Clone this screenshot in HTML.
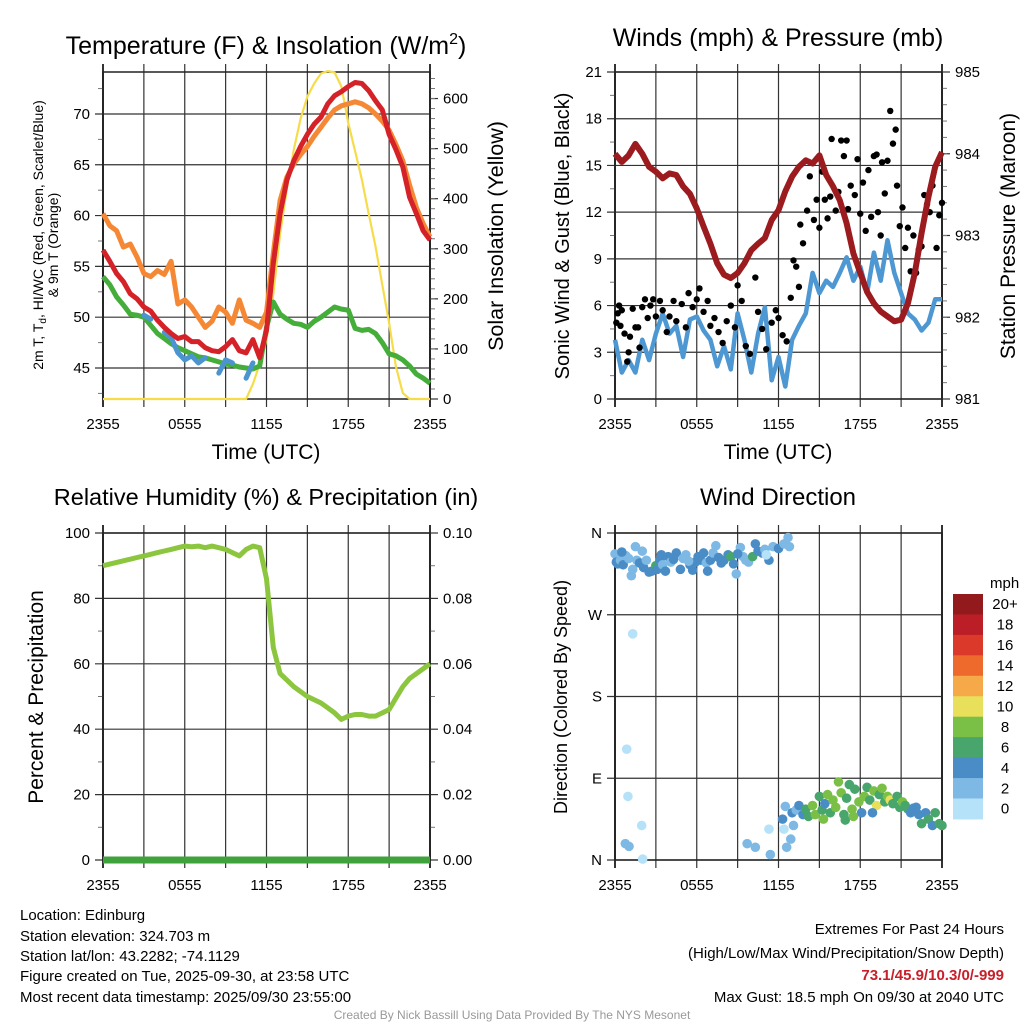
<!DOCTYPE html>
<html><head><meta charset="utf-8"><style>
html,body{margin:0;padding:0;background:#fff;}
svg{display:block;font-family:"Liberation Sans",Arial,sans-serif;}
</style></head><body>
<svg id="chart" width="1024" height="1024" viewBox="0 0 1024 1024" xmlns="http://www.w3.org/2000/svg">
<text x="266" y="54" font-size="25" text-anchor="middle">Temperature (F) &amp; Insolation (W/m<tspan font-size="16" dy="-10">2</tspan><tspan dy="10">)</tspan></text>
<text x="778" y="46" font-size="25" text-anchor="middle">Winds (mph) &amp; Pressure (mb)</text>
<text x="266" y="505" font-size="23.5" text-anchor="middle">Relative Humidity (%) &amp; Precipitation (in)</text>
<text x="778" y="505" font-size="24" text-anchor="middle">Wind Direction</text>

<text transform="translate(43,235) rotate(-90)" font-size="14" text-anchor="middle">2m T, T<tspan font-size="10" dy="3">d</tspan><tspan dy="-3">, HI/WC (Red, Green, Scarlet/Blue)</tspan></text>
<text transform="translate(58,245) rotate(-90)" font-size="14" text-anchor="middle">&amp; 9m T (Orange)</text>
<text transform="translate(503,236) rotate(-90)" font-size="21.5" text-anchor="middle">Solar Insolation (Yellow)</text>
<text x="266" y="459" font-size="21" text-anchor="middle">Time (UTC)</text>
<text transform="translate(569,236) rotate(-90)" font-size="20" text-anchor="middle">Sonic Wind &amp; Gust (Blue, Black)</text>
<text transform="translate(1015,236) rotate(-90)" font-size="21" text-anchor="middle">Station Pressure (Maroon)</text>
<text x="778" y="459" font-size="21" text-anchor="middle">Time (UTC)</text>
<text transform="translate(43,697) rotate(-90)" font-size="21" text-anchor="middle">Percent &amp; Precipitation</text>
<text transform="translate(567,697) rotate(-90)" font-size="18" text-anchor="middle">Direction (Colored By Speed)</text>

<g font-size="15">
<text x="20" y="920">Location: Edinburg</text>
<text x="20" y="941">Station elevation: 324.703 m</text>
<text x="20" y="961">Station lat/lon: 43.2282; -74.1129</text>
<text x="20" y="981">Figure created on Tue, 2025-09-30, at 23:58 UTC</text>
<text x="20" y="1002">Most recent data timestamp: 2025/09/30 23:55:00</text>
</g>
<g font-size="15" text-anchor="end">
<text x="1004" y="934">Extremes For Past 24 Hours</text>
<text x="1004" y="958">(High/Low/Max Wind/Precipitation/Snow Depth)</text>
<text x="1004" y="980" fill="#c8202a" font-weight="bold">73.1/45.9/10.3/0/-999</text>
<text x="1004" y="1002">Max Gust: 18.5 mph On 09/30 at 2040 UTC</text>
</g>
<text x="512" y="1019" font-size="12" fill="#999" text-anchor="middle">Created By Nick Bassill Using Data Provided By The NYS Mesonet</text>
</svg>
<script>
// ---------- data ----------
const timeTicks = ["2355","0555","1155","1755","2355"];
const halfHours = [0,0.5,1,1.5,2,2.5,3,3.5,4,4.5,5,5.5,6,6.5,7,7.5,8,8.5,9,9.5,10,10.5,11,11.5,12,12.5,13,13.5,14,14.5,15,15.5,16,16.5,17,17.5,18,18.5,19,19.5,20,20.5,21,21.5,22,22.5,23,23.5,24];
const tempRed = [56.6,55.5,54.3,53.5,52.3,51.8,51.0,50.6,49.7,49.0,48.4,47.9,48.1,47.6,47.6,47.0,46.7,46.6,47.1,47.8,46.7,46.5,47.8,46.0,48.7,55.3,60.2,63.5,65.4,66.8,68.0,69.0,69.7,71.0,71.8,72.2,72.7,73.1,73.0,72.3,71.3,70.4,68.0,66.5,64.8,61.8,60.2,58.5,57.6];
const temp9mOrange = [60.2,59.0,58.5,56.9,57.2,55.9,54.3,54.0,54.6,54.2,55.5,51.3,51.7,51.0,50.0,49.0,49.6,51.0,50.5,49.4,51.7,49.7,49.4,49.0,50.5,56.3,61.5,63.8,65.1,66.0,66.8,67.8,68.7,69.6,70.4,70.8,71.0,71.2,71.0,70.6,70.0,69.3,68.4,67.0,65.4,63.0,60.8,59.2,57.9];
const dewGreen = [54.0,53.2,52.0,51.2,50.3,50.2,50.0,49.2,48.4,47.9,47.4,47.0,46.7,46.4,46.1,46.0,45.8,45.6,45.4,45.3,45.1,45.0,44.9,45.2,49.0,51.5,50.3,49.8,49.4,49.3,49.0,49.6,50.0,50.5,51.0,50.8,50.7,48.9,48.7,48.8,48.4,47.5,46.4,46.2,45.8,45.2,44.4,44.0,43.5];
const windChillBlue = [null,null,null,null,null,null,50.2,49.8,null,48.5,48.0,46.5,45.8,46.2,45.5,46.0,null,44.5,45.8,45.5,null,44.0,45.5,null,null,null,null,null,null,null,null,null,null,null,null,null,null,null,null,null,null,null,null,null,null,null,null,null,56.8];
const solar = [0,0,0,0,0,0,0,0,0,0,0,0,0,0,0,0,0,0,0,0,0,0,30,70,118,210,330,420,498,560,604,630,650,655,652,624,551,495,438,370,305,228,152,65,12,0,0,0,0];
const pressure = [984.00,983.90,983.98,984.12,984.00,983.84,983.78,983.70,983.76,983.74,983.60,983.51,983.33,983.11,982.90,982.66,982.52,982.48,982.54,982.66,982.82,982.90,982.97,983.19,983.31,983.54,983.72,983.84,983.92,983.88,983.98,983.74,983.60,983.43,983.15,982.78,982.54,982.31,982.17,982.07,982.01,981.95,981.97,982.17,982.54,983.03,983.47,983.84,984.02];
const windSpeed = [3.8,1.7,2.5,1.7,3.8,2.5,4.2,5.5,4.2,4.7,2.7,5.1,5.3,4.4,3.8,2.1,3.4,1.9,5.5,3.8,1.7,4.2,5.9,1.2,2.7,0.8,3.8,4.7,5.5,8.1,6.8,7.6,7.2,8.1,9.1,7.6,8.5,6.8,9.4,7.6,10.2,8.1,6.8,5.5,5.1,4.4,4.9,6.4,6.4];
const gustTimes = [0.1,0.2,0.3,0.4,0.5,0.7,0.9,1.0,1.1,1.3,1.5,1.7,1.8,2.0,2.2,2.4,2.6,2.8,3.0,3.3,3.5,3.8,4.0,4.3,4.5,4.9,5.2,5.4,5.7,6.0,6.2,6.5,6.8,7.0,7.3,7.6,7.9,8.2,8.5,8.8,9.0,9.3,9.6,9.9,10.3,10.5,10.8,11.1,11.5,11.8,12.0,12.3,12.6,12.9,13.1,13.3,13.5,13.6,13.8,14.1,14.3,14.6,14.8,15.0,15.2,15.4,15.6,15.8,15.9,16.2,16.4,16.6,16.8,17.0,17.1,17.3,17.6,17.8,18.0,18.2,18.4,18.6,18.8,19.0,19.2,19.3,19.5,19.6,19.8,20.0,20.2,20.4,20.6,20.7,20.9,21.1,21.3,21.5,21.7,21.9,22.1,22.3,22.5,22.7,22.9,23.1,23.3,23.6,23.8,24.0];
const gustValues = [4.9,5.5,6.0,4.7,5.7,4.2,2.4,3.0,4.0,5.8,4.6,4.6,3.3,5.9,6.4,5.2,6.0,6.4,5.3,6.3,5.7,4.3,5.3,6.3,5.0,6.1,4.6,6.8,5.9,6.4,7.1,5.6,6.3,4.7,5.2,4.3,3.6,5.0,6.0,4.6,7.3,6.3,3.4,2.9,7.8,5.6,4.5,3.2,4.9,5.7,5.2,4.1,3.7,6.5,8.9,8.5,7.2,11.2,10.0,12.1,14.3,11.5,12.8,11.0,14.6,12.8,11.6,13.0,16.7,12.1,13.3,16.6,15.6,16.6,12.2,13.7,13.1,15.4,11.9,13.9,10.8,14.7,11.7,15.6,15.7,12.0,10.5,15.2,13.2,15.3,18.5,16.4,17.3,13.7,11.1,12.3,9.7,11.0,8.2,10.5,8.1,9.6,9.8,13.1,12.5,12.0,13.7,9.7,11.8,12.6];
const rh = [90,90.5,91,91.5,92,92.5,93,93.5,94,94.5,95,95.5,96,95.8,96,95.5,96,95.5,95,94,93,95,96,95.5,86,65,57,55,53,51.5,50,49,48,46.5,45,43,44,44.5,44.5,44,44,45,46,49.5,53,55.5,57,58.5,60];
const precip = [0,0,0,0,0,0,0,0,0,0,0,0,0,0,0,0,0,0,0,0,0,0,0,0,0,0,0,0,0,0,0,0,0,0,0,0,0,0,0,0,0,0,0,0,0,0,0,0,0];
const dirTimes = [0.0,0.1,0.2,0.4,0.6,0.8,1.0,1.2,1.3,1.5,1.6,1.8,2.0,2.1,2.3,2.5,2.7,3.0,3.1,3.3,3.5,3.7,3.9,4.1,4.3,4.5,4.8,5.0,5.2,5.5,5.7,5.9,6.1,6.3,6.5,6.7,6.8,7.0,7.2,7.4,7.6,7.8,8.0,8.3,8.5,8.7,8.9,9.2,9.4,9.6,9.8,10.1,10.3,10.5,10.8,11.0,11.3,11.6,12.0,12.4,12.7,12.8,0.5,3.4,5.4,9.0,11.1,
 1.3,0.86,0.95,1.96,0.76,1.03,2.03,9.7,10.3,11.3,11.4,12.4,12.9,12.6,12.5,12.3,13.1,
 13.0,13.3,13.5,13.8,14.0,14.2,14.5,14.7,15.0,15.2,15.4,15.6,15.8,16.0,16.2,16.4,16.6,16.8,17.0,17.2,17.4,17.6,17.9,18.1,18.3,18.5,18.7,19.0,19.2,19.4,19.6,19.8,20.0,20.2,20.4,20.7,20.9,21.1,21.3,21.5,21.7,21.9,22.1,22.3,22.5,22.8,23.0,23.3,23.5,23.8,24.0,15.3,16.9,18.9,17.5];
const dirDegrees = [337,328,326,330,325,335,332,313,320,345,330,327,340,322,330,317,318,324,320,330,325,318,334,328,331,338,320,332,336,325,319,328,334,330,338,327,318,330,338,346,333,327,330,336,334,326,315,344,334,330,328,334,348,340,338,342,330,345,343,348,355,345,339,336,329,337,336,
 249,122,70,38,18,15,1,18,14,34,6,34,23,14,59,45,38,
 52,55,60,50,56,48,60,50,70,55,62,72,52,66,58,86,74,50,68,83,56,78,64,52,70,80,66,76,60,72,79,64,70,66,62,70,58,64,60,56,52,57,58,50,40,52,45,38,52,40,38,45,44,52,48];
const dirSpeeds = [3,4,4,3,4,2,3,2,2,2,3,4,2,4,3,4,4,6,4,4,3,4,4,3,4,4,4,3,2,4,4,4,4,4,4,3,4,4,3,3,4,4,4,4,6,4,3,3,3,3,2,6,4,4,4,2,4,3,4,3,2,2,4,4,3,4,1,
 1,1,1,1,2,2,1,2,2,1,2,1,2,2,2,4,3,
 4,3,4,4,6,6,8,8,6,6,4,8,6,8,8,8,8,6,6,6,8,6,8,4,8,6,6,8,10,6,8,6,8,10,6,6,6,8,6,6,4,4,4,4,6,4,6,4,6,6,6,8,6,4,8];
const speedBins = ["0","2","4","6","8","10","12","14","16","18","20+"];
const speedColors = ["#b5e2f8","#7db9e4","#4a8dc6","#48a56c","#7bc046","#e8e05a","#f5a948","#ee6a2c","#db3a2b","#bb1e27","#931a1c"];

// ---------- helpers ----------
const svg = document.getElementById('chart');
const NS = 'http://www.w3.org/2000/svg';
function el(tag, attrs){const e=document.createElementNS(NS,tag);for(const k in attrs)e.setAttribute(k,attrs[k]);svg.appendChild(e);return e;}
function makeX(x0,w){return t=>x0+t/24*w;}
function makeY(y0,h,lo,hi){return v=>y0+h-(v-lo)/(hi-lo)*h;}
function pathFrom(ts,vs,X,Y){let d='',pen=false;for(let i=0;i<ts.length;i++){if(vs[i]===null){pen=false;continue;}d+=(pen?'L':'M')+X(ts[i]).toFixed(1)+','+Y(vs[i]).toFixed(1);pen=true;}return d;}

function frame(name,x0,y0,w,h,leftTicks,leftLabels,leftY,minorLeft,rightTicks,rightLabels,rightY,minorRight,xLabels){
  for(let k=0;k<=8;k++){
    const x=x0+k/8*w;
    const g=el('line',{x1:x,x2:x,y1:y0-8,y2:y0+h+8,stroke:'#333','stroke-width':(k==0||k==8)?2:1.2});
    
    
  }
  leftTicks.forEach((v,i)=>{
    const y=leftY(v);
    const g=el('line',{x1:x0-8,x2:x0+w,y1:y,y2:y,stroke:'#333','stroke-width':1.2});
    
    
    const t=el('text',{x:x0-13,y:y+5,'font-size':15,'text-anchor':'end'});
    t.textContent=leftLabels[i];
    
    
  });
  minorLeft.forEach(v=>{const y=leftY(v);el('line',{x1:x0-5,x2:x0,y1:y,y2:y,stroke:'#777','stroke-width':1});});
  rightTicks.forEach((v,i)=>{
    const y=rightY(v);
    el('line',{x1:x0+w,x2:x0+w+8,y1:y,y2:y,stroke:'#333','stroke-width':1.2});
    if(rightLabels){
      const t=el('text',{x:x0+w+13,y:y+5,'font-size':15});
      t.textContent=rightLabels[i];
      
      
    }
  });
  minorRight.forEach(v=>{const y=rightY(v);el('line',{x1:x0+w,x2:x0+w+5,y1:y,y2:y,stroke:'#777','stroke-width':1});});
  el('rect',{x:x0,y:y0,width:w,height:h,fill:'none',stroke:'#222','stroke-width':1.5});
  xLabels.forEach((lab,i)=>{
    const t=el('text',{x:x0+i/4*w,y:y0+h+30,'font-size':15,'text-anchor':'middle'});
    t.textContent=lab;
    
    
  });
}
function range(a,b,s){const r=[];for(let v=a;v<=b+1e-9;v+=s)r.push(+v.toFixed(3));return r;}

// ---------- panel 1: temperature ----------
{
  const x0=103,y0=72,w=327,h=327;
  const X=makeX(x0,w), Y=makeY(y0,h,41.95,74.13), YS=makeY(y0,h,0,653);
  frame('temperature',x0,y0,w,h,[45,50,55,60,65,70],["45","50","55","60","65","70"],Y,range(42.5,72.5,5),
        [0,100,200,300,400,500,600],["0","100","200","300","400","500","600"],YS,range(20,640,20),timeTicks);
  const s=el('path',{d:pathFrom(halfHours,solar,X,YS),fill:'none',stroke:'#f7dc4a','stroke-width':2.2});
  
  
  const g=el('path',{d:pathFrom(halfHours,dewGreen,X,Y),fill:'none',stroke:'#45ad3a','stroke-width':5,'stroke-linejoin':'round'});
  
  
  const b=el('path',{d:pathFrom(halfHours,windChillBlue,X,Y),fill:'none',stroke:'#4b94cf','stroke-width':5,'stroke-linejoin':'round','stroke-linecap':'round'});
  
  
  const o=el('path',{d:pathFrom(halfHours,temp9mOrange,X,Y),fill:'none',stroke:'#f58834','stroke-width':5,'stroke-linejoin':'round'});
  
  
  const r=el('path',{d:pathFrom(halfHours,tempRed,X,Y),fill:'none',stroke:'#d52128','stroke-width':5,'stroke-linejoin':'round'});
  
  
}
// ---------- panel 2: winds ----------
{
  const x0=615,y0=72,w=327,h=327;
  const X=makeX(x0,w), Y=makeY(y0,h,0,21), YP=makeY(y0,h,981,985);
  frame('winds',x0,y0,w,h,[0,3,6,9,12,15,18,21],["0","3","6","9","12","15","18","21"],Y,range(1.5,19.5,3),
        [981,982,983,984,985],["981","982","983","984","985"],YP,range(981.2,984.8,0.2),timeTicks);
  const bl=el('path',{d:pathFrom(halfHours,windSpeed,X,Y),fill:'none',stroke:'#4d97d2','stroke-width':4.5,'stroke-linejoin':'round'});
  
  
  gustTimes.forEach((t,i)=>{
    const c=el('circle',{cx:X(t),cy:Y(gustValues[i]),r:3.2,fill:'#000'});
    
    
  });
  const p=el('path',{d:pathFrom(halfHours,pressure,X,YP),fill:'none',stroke:'#9b1b1e','stroke-width':6,'stroke-linejoin':'round'});
  
  
}
// ---------- panel 3: humidity ----------
{
  const x0=103,y0=533,w=327,h=327;
  const X=makeX(x0,w), Y=makeY(y0,h,0,100), YR=makeY(y0,h,0,0.1);
  frame('humidity',x0,y0,w,h,[0,20,40,60,80,100],["0","20","40","60","80","100"],Y,range(10,90,20),
        [0,0.02,0.04,0.06,0.08,0.1],["0.00","0.02","0.04","0.06","0.08","0.10"],YR,range(0.01,0.09,0.02),timeTicks);
  const pr=el('path',{d:pathFrom(halfHours,precip,X,YR),fill:'none',stroke:'#3fa23c','stroke-width':7});
  
  
  const rl=el('path',{d:pathFrom(halfHours,rh,X,Y),fill:'none',stroke:'#8cc63f','stroke-width':5,'stroke-linejoin':'round'});
  
  
}
// ---------- panel 4: wind direction ----------
{
  const x0=615,y0=533,w=327,h=327;
  const X=makeX(x0,w), Y=makeY(y0,h,0,360);
  frame('direction',x0,y0,w,h,[0,90,180,270,360],["N","E","S","W","N"],Y,[],[],null,Y,[],timeTicks);
  dirTimes.forEach((t,i)=>{
    const ci=Math.min(10,Math.floor(dirSpeeds[i]/2));
    const c=el('circle',{cx:X(t),cy:Y(dirDegrees[i]),r:4.8,fill:speedColors[ci]});
    
    
  });
  const cx=953,cy=594,bw=30,bh=20.45;
  const u=el('text',{x:990,y:588,'font-size':15});
  u.textContent='mph';
  
  
  for(let k=0;k<11;k++){
    const idx=10-k;
    const r=el('rect',{x:cx,y:cy+k*bh,width:bw,height:bh+0.5,fill:speedColors[idx]});
    
    
    const t=el('text',{x:1005,y:cy+k*bh+bh/2+5,'font-size':15,'text-anchor':'middle'});
    t.textContent=speedBins[idx];
    
    
  }
}
</script>
</body></html>
